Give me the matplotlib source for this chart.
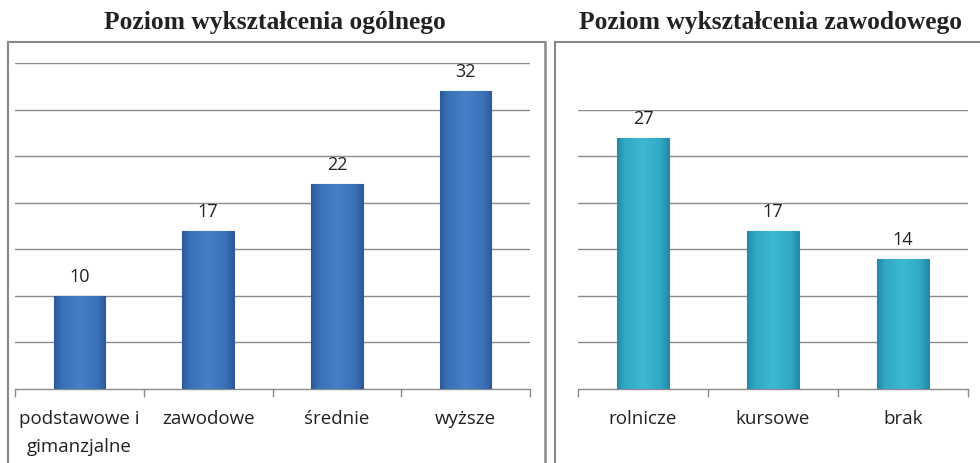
import matplotlib
matplotlib.use("Agg")
import matplotlib.pyplot as plt
import numpy as np
from matplotlib.lines import Line2D
from matplotlib.colors import LinearSegmentedColormap

# ---- data ----
general_title = "Poziom wykształcenia ogólnego"
general_cats = ["podstawowe i\ngimanzjalne", "zawodowe", "średnie", "wyższe"]
general_vals = [10, 17, 22, 32]
general_ymax = 35

prof_title = "Poziom wykształcenia zawodowego"
prof_cats = ["rolnicze", "kursowe", "brak"]
prof_vals = [27, 17, 14]
prof_ymax = 30

W, H = 980, 463
fig = plt.figure(figsize=(W / 100, H / 100), dpi=100)
fig.patch.set_facecolor("white")

LABEL_FONT = ["Open Sans", "DejaVu Sans"]
TITLE_FONT = ["Liberation Serif", "DejaVu Serif"]


def fx(px):
    return px / W


def fy(py):
    return 1 - py / H


def gradient_bars(ax, bars, c_dark, c_mid, c_light):
    cmap = LinearSegmentedColormap.from_list(
        "g", [(0, c_dark), (0.15, c_mid), (0.5, c_light), (0.85, c_mid), (1, c_dark)])
    grad = np.linspace(0, 1, 256).reshape(1, -1)
    for b in bars:
        x0, y0 = b.get_x(), b.get_y()
        w, h = b.get_width(), b.get_height()
        im = ax.imshow(grad, extent=[x0, x0 + w, y0, y0 + h], aspect="auto",
                       cmap=cmap, zorder=b.get_zorder(), interpolation="bicubic")
        im.set_clip_path(b)


def panel(rect, cats, vals, ymax, c_face, c_dark, c_light, c_edge):
    ax = fig.add_axes(rect)
    n = len(cats)
    x = np.arange(n)
    bars = ax.bar(x, vals, width=0.4, color=c_face, edgecolor=c_edge, linewidth=0.8, zorder=3)
    gradient_bars(ax, bars, c_dark, c_face, c_light)
    for b in bars:
        b.set_facecolor("none")
    ax.set_xlim(-0.5, n - 0.5)
    ax.set_ylim(0, ymax)
    ax.set_yticks(np.arange(5, ymax + 0.1, 5))
    ax.yaxis.grid(True, color="#8c8c8c", linewidth=1.0, zorder=0)
    ax.set_axisbelow(True)
    ax.tick_params(axis="y", left=False, labelleft=False)
    ax.set_xticks(x)
    ax.set_xticklabels(cats, fontsize=13.5, family=LABEL_FONT, color="#222222",
                       linespacing=1.7)
    ax.tick_params(axis="x", which="major", length=0, pad=15)
    ax.set_xticks(np.arange(-0.5, n, 1.0), minor=True)
    ax.tick_params(axis="x", which="minor", length=6, color="#8c8c8c", width=1)
    for s in ["left", "right", "top"]:
        ax.spines[s].set_visible(False)
    ax.spines["bottom"].set_color("#8c8c8c")
    ax.spines["bottom"].set_linewidth(1.0)
    for xi, v in zip(x, vals):
        ax.annotate(str(v), (xi, v), xytext=(0, 7), textcoords="offset points",
                    ha="center", va="bottom", fontsize=13, family=LABEL_FONT,
                    color="#222222")
    return ax


base = 389
scale = 326 / 35  # px per unit

ax1 = panel([fx(15), 1 - base / H, fx(530) - fx(15), general_ymax * scale / H],
            general_cats, general_vals, general_ymax,
            "#3a70b8", "#2b5a9a", "#4580c8", "#2c5b98")
ax2 = panel([fx(578), 1 - base / H, fx(968) - fx(578), prof_ymax * scale / H],
            prof_cats, prof_vals, prof_ymax,
            "#30a8c5", "#2388a5", "#3fb8d4", "#2a8aa6")

# frames
fc = "#888888"
fig.add_artist(Line2D([fx(8), fx(8)], [fy(42), 0], transform=fig.transFigure, color=fc, lw=1.5))
fig.add_artist(Line2D([fx(8), fx(545)], [fy(42), fy(42)], transform=fig.transFigure, color=fc, lw=1.5))
fig.add_artist(Line2D([fx(545), fx(545)], [fy(42), 0], transform=fig.transFigure, color=fc, lw=1.8))
fig.add_artist(Line2D([fx(555), fx(555)], [fy(42), 0], transform=fig.transFigure, color=fc, lw=1.5))
fig.add_artist(Line2D([fx(555), 1], [fy(42), fy(42)], transform=fig.transFigure, color=fc, lw=1.5))

# titles
fig.text(fx(275), fy(23), general_title, ha="center", va="center", fontsize=18.4,
         fontweight="bold", family=TITLE_FONT, color="#222222")
fig.text(fx(770), fy(23), prof_title, ha="center", va="center", fontsize=18.4,
         fontweight="bold", family=TITLE_FONT, color="#222222")

fig.savefig("out.png", dpi=100, facecolor="white")
